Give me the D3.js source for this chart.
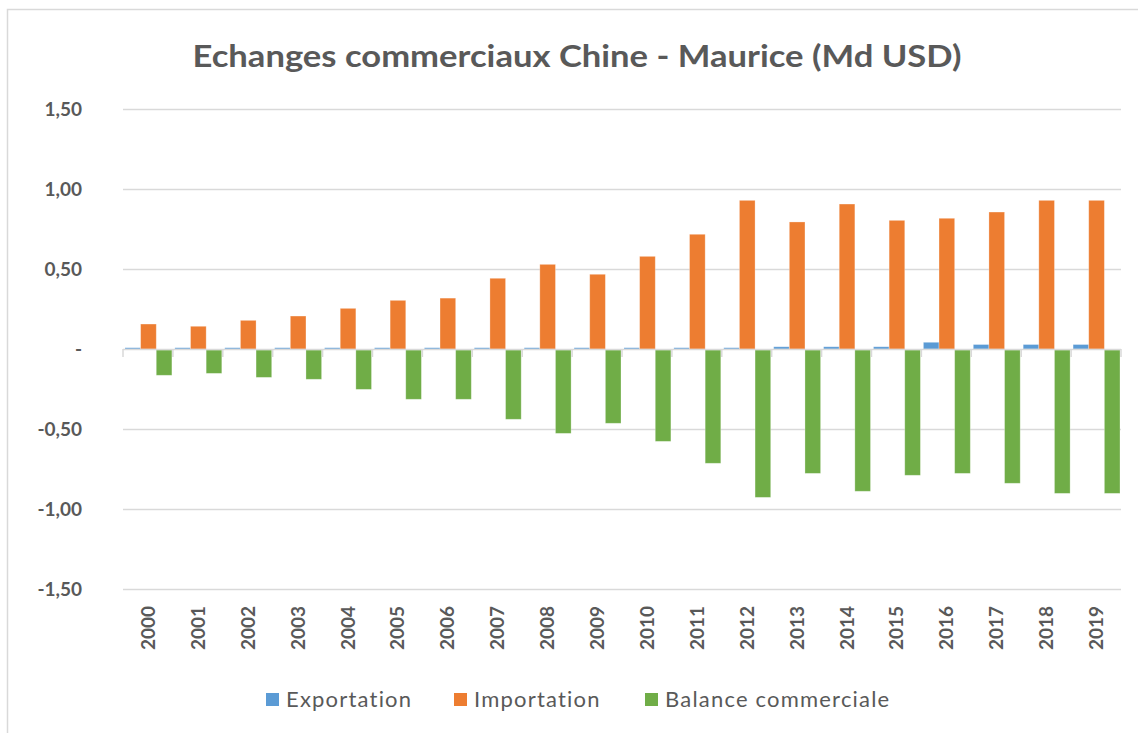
<!DOCTYPE html>
<html><head><meta charset="utf-8">
<script src="https://cdn.jsdelivr.net/npm/d3@7/dist/d3.min.js"></script>
<style>
body{margin:0;background:#fff;}
svg{display:block;}
text{font-family:Lato,"Open Sans",sans-serif;}
</style></head>
<body><svg id="c" width="1138" height="733"></svg>
<script>
const title = "Echanges commerciaux Chine - Maurice (Md USD)";
const years = ["2000","2001","2002","2003","2004","2005","2006","2007","2008","2009","2010","2011","2012","2013","2014","2015","2016","2017","2018","2019"];
const seriesNames = ["Exportation","Importation","Balance commerciale"];
const seriesColors = ["#5b9bd5","#ed7d31","#70ad47"];
const exportation = [0.008,0.008,0.008,0.008,0.008,0.008,0.008,0.008,0.008,0.008,0.008,0.008,0.008,0.014,0.014,0.014,0.042,0.028,0.028,0.028];
const importation = [0.156,0.142,0.179,0.206,0.254,0.304,0.318,0.442,0.529,0.467,0.579,0.717,0.929,0.794,0.906,0.804,0.817,0.856,0.929,0.929];
const balance = [-0.158,-0.146,-0.171,-0.183,-0.246,-0.308,-0.308,-0.433,-0.521,-0.458,-0.571,-0.708,-0.921,-0.771,-0.883,-0.783,-0.771,-0.833,-0.896,-0.896];
const yTicks = [-1.5,-1,-0.5,0,0.5,1,1.5];

const svg = d3.select("#c");
const grey = "#d9d9d9", txt = "#595959";
const pL = 123, pR = 1121, pT = 109, pB = 589;

svg.append("rect").attr("x",7.5).attr("y",9.5).attr("width",1200).attr("height",800)
  .attr("fill","#fff").attr("stroke",grey).attr("stroke-width",1.5);

const y = d3.scaleLinear().domain([-1.5,1.5]).range([pB, pT]);
const x0 = d3.scaleBand().domain(years).range([pL, pR]).padding(0);
const x1 = d3.scaleBand().domain(seriesNames).range([2, x0.bandwidth()-1]).padding(0);

const loc = d3.formatLocale({decimal:",",thousands:" ",grouping:[3],currency:["",""],minus:"-"});
const fmt = loc.format(".2f");

// gridlines
const grid = svg.append("g").attr("transform",`translate(${pL},0)`)
  .call(d3.axisLeft(y).tickValues(yTicks.filter(v=>v!==0)).tickSize(-(pR-pL)).tickFormat(""));
grid.select(".domain").remove();
grid.selectAll("line").attr("stroke",grey).attr("stroke-width",1.5);

// y labels
const ya = svg.append("g").attr("transform",`translate(${pL},0)`)
  .call(d3.axisLeft(y).tickValues(yTicks).tickSize(0).tickPadding(41)
    .tickFormat(v => v===0 ? "-" : fmt(v)));
ya.select(".domain").remove();
ya.selectAll("text").attr("font-size",19).attr("font-weight","bold").attr("fill",txt)
  .attr("font-family","Lato, sans-serif");

// bars
const data = years.map((yr,i)=>({year:yr, vals:[exportation[i],importation[i],balance[i]]}));
const g = svg.append("g");
data.forEach(d=>{
  d.vals.forEach((v,k)=>{
    g.append("rect")
      .attr("x", x0(d.year)+x1(seriesNames[k]))
      .attr("width", x1.bandwidth())
      .attr("y", v>=0 ? y(v) : y(0)+1)
      .attr("height", Math.max(1, Math.abs(y(v)-y(0))))
      .attr("fill", seriesColors[k])
      .attr("stroke", "#fff").attr("stroke-opacity",0.35).attr("stroke-width",0.8);
  });
});

// category axis line & ticks
svg.append("line").attr("x1",pL).attr("x2",pR).attr("y1",y(0)+0.5).attr("y2",y(0)+0.5)
  .attr("stroke",grey).attr("stroke-width",1.5);
const bounds = years.map(d=>x0(d)).concat([x0(years[years.length-1])+x0.bandwidth()]);
svg.append("g").selectAll("line").data(bounds).join("line")
  .attr("x1",d=>d).attr("x2",d=>d).attr("y1",y(0)).attr("y2",y(0)+8)
  .attr("stroke",grey).attr("stroke-width",1.5);

// x labels
svg.append("g").selectAll("text").data(years).join("text")
  .attr("transform",d=>`translate(${x0(d)+x0.bandwidth()/2+7},606) rotate(-90)`)
  .attr("text-anchor","end").attr("font-size",19).attr("font-weight","bold").attr("fill",txt)
  .text(d=>d);

// title
svg.append("text").attr("x",577).attr("y",67).attr("text-anchor","middle")
  .attr("font-size",31).attr("font-weight","bold").attr("fill",txt)
  .attr("textLength",769).attr("lengthAdjust","spacingAndGlyphs").text(title);

// legend
const legX = [266, 454, 645];
const lg = svg.append("g");
seriesNames.forEach((s,k)=>{
  lg.append("rect").attr("x",legX[k]).attr("y",693).attr("width",13).attr("height",13).attr("fill",seriesColors[k]);
  lg.append("text").attr("x",legX[k]+20).attr("y",707).attr("font-size",22).attr("letter-spacing",1.2)
    .attr("fill",txt).text(s);
});
</script></body></html>
